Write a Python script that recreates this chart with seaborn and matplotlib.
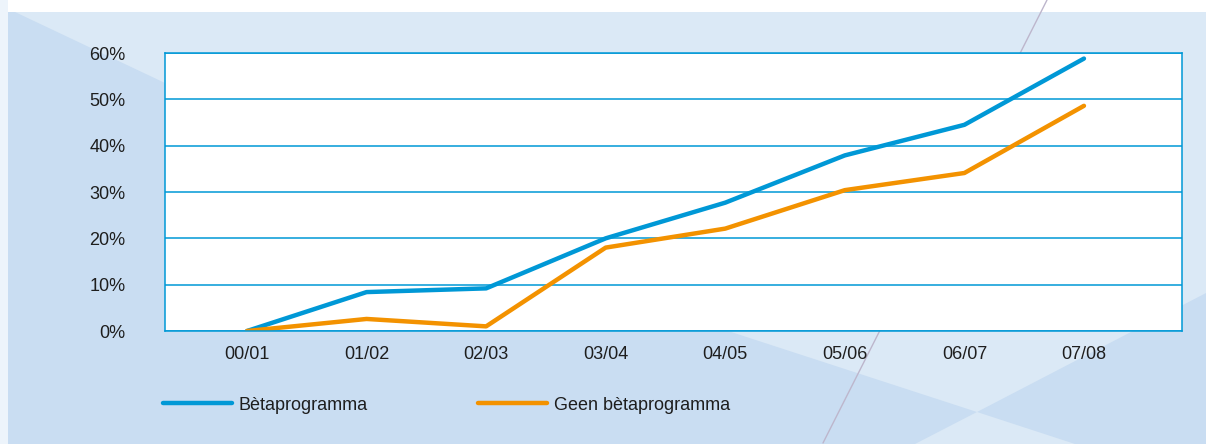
import pandas as pd
import matplotlib
matplotlib.use('Agg')
import matplotlib.pyplot as plt
from matplotlib.patches import Polygon, Rectangle
from matplotlib.lines import Line2D
import seaborn as sns

# Gegevens
jaren = ['00/01', '01/02', '02/03', '03/04', '04/05', '05/06', '06/07', '07/08']
beta = [0.0, 8.4, 9.2, 20.0, 27.7, 37.9, 44.5, 58.8]
geen_beta = [0.0, 2.6, 1.0, 18.0, 22.1, 30.4, 34.1, 48.6]
reeksen = ['Bètaprogramma', 'Geen bètaprogramma']
y_ticks = [0, 10, 20, 30, 40, 50, 60]

df = pd.DataFrame({
    'jaar': jaren * 2,
    'reeks': [reeksen[0]] * len(jaren) + [reeksen[1]] * len(jaren),
    'waarde': beta + geen_beta,
})

sns.set_style('white')
plt.rcParams['font.family'] = ['Liberation Sans', 'DejaVu Sans']

blauw = '#0098d6'
oranje = '#f39200'
tekst = '#1e1e1e'
fs = 13

W, H = 1206, 444
fig = plt.figure(figsize=(W / 100, H / 100), dpi=100)
fig.patch.set_facecolor('white')

def fp(pts):
    # pixelcoordinaten -> figuurcoordinaten
    return [(x / W, 1 - y / H) for x, y in pts]

# Achtergrond
fig.patches.append(Rectangle((0, 0), 8 / W, 1, transform=fig.transFigure,
                             facecolor='#edf4fb', edgecolor='none', zorder=-10))
fig.patches.append(Polygon(fp([(8, 12), (W, 12), (W, H), (8, H)]), closed=True,
                           transform=fig.transFigure, facecolor='#dbe9f6', edgecolor='none', zorder=-9))
fig.patches.append(Polygon(fp([(8, 12), (15, 12), (165, 83), (725, 330), (977, 412), (915, H), (8, H)]),
                           closed=True, transform=fig.transFigure, facecolor='#c9ddf2',
                           edgecolor='none', zorder=-8))
fig.patches.append(Polygon(fp([(W, 293), (977, 412), (1075, H), (W, H)]), closed=True,
                           transform=fig.transFigure, facecolor='#c9ddf2', edgecolor='none', zorder=-8))
fig.lines.append(Line2D([1047 / W, 823 / W], [1.0, 1 - 443 / H], transform=fig.transFigure,
                        color='#bdb6cc', lw=1.0, zorder=-7))

ax = fig.add_axes([164.5 / W, 1 - 331 / H, (1182 - 164.5) / W, (331 - 53) / H])
ax.set_facecolor('white')

sns.lineplot(data=df, x='jaar', y='waarde', hue='reeks', palette=[blauw, oranje],
             linewidth=3.2, ax=ax, sort=False)

ax.set_xlim(-0.69, 7.82)
ax.set_ylim(0, 60)
ax.set_yticks(y_ticks)
ax.set_yticklabels([f'{t}%' for t in y_ticks])
ax.set_xlabel('')
ax.set_ylabel('')

ax.grid(axis='y', color=blauw, linewidth=1.1)
ax.grid(axis='x', visible=False)
ax.set_axisbelow(True)
for s in ax.spines.values():
    s.set_visible(True)
    s.set_color(blauw)
    s.set_linewidth(1.1)

ax.tick_params(axis='y', length=7.2, width=1.1, color=blauw, pad=21, labelsize=fs, labelcolor=tekst)
ax.tick_params(axis='x', length=0, pad=11, labelsize=fs, labelcolor=tekst)
ax.yaxis.get_major_ticks()[0].tick1line.set_visible(False)

ax.legend(loc='center left', bbox_to_anchor=(163 / W, 1 - 405 / H), bbox_transform=fig.transFigure,
          ncol=2, frameon=False, fontsize=fs, handlelength=3.8, handletextpad=0.4,
          columnspacing=6.1, borderpad=0, borderaxespad=0, labelcolor=tekst)

fig.savefig('out.png', dpi=100, facecolor=fig.get_facecolor())
